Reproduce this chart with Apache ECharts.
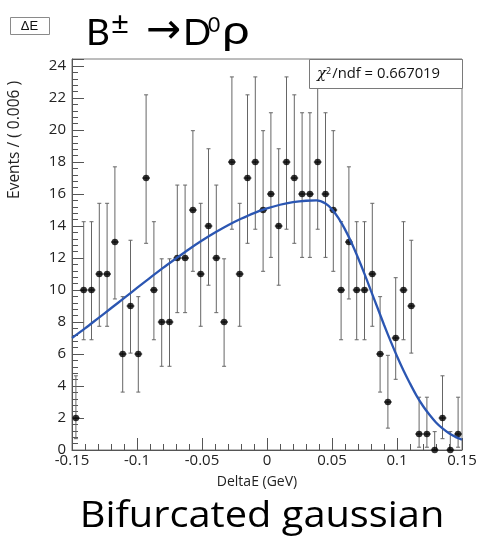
<!DOCTYPE html>
<html>
<head>
<meta charset="utf-8">
<script src="https://cdn.jsdelivr.net/npm/echarts@6/dist/echarts.min.js"></script>
<style>
  html, body { margin: 0; padding: 0; background: #fff; }
  #chart { width: 481px; height: 541px; }
</style>
</head>
<body>
<div id="chart"></div>
<script>
// DeltaE bin centres (GeV), bin width 0.006
const binCenters = [
  -0.147, -0.141, -0.135, -0.129, -0.123, -0.117, -0.111, -0.105, -0.099, -0.093,
  -0.087, -0.081, -0.075, -0.069, -0.063, -0.057, -0.051, -0.045, -0.039, -0.033,
  -0.027, -0.021, -0.015, -0.009, -0.003, 0.003, 0.009, 0.015, 0.021, 0.027,
  0.033, 0.039, 0.045, 0.051, 0.057, 0.063, 0.069, 0.075, 0.081, 0.087,
  0.093, 0.099, 0.105, 0.111, 0.117, 0.123, 0.129, 0.135, 0.141, 0.147
];
const halfBin = 0.003;

// events per bin
const counts = [
  2, 10, 10, 11, 11, 13, 6, 9, 6, 17,
  10, 8, 8, 12, 12, 15, 11, 14, 12, 8,
  18, 11, 17, 18, 15, 16, 14, 18, 17, 16,
  16, 18, 16, 15, 10, 13, 10, 10, 11, 6,
  3, 7, 10, 9, 1, 1, 0, 2, 0, 1
];

// Poisson interval bounds per bin
const errLow = [
  0.708, 6.891, 6.891, 7.734, 7.734, 9.441, 3.620, 6.057, 3.620, 12.92,
  6.891, 5.232, 5.232, 8.585, 8.585, 11.17, 7.734, 10.30, 8.585, 5.232,
  13.80, 7.734, 12.92, 13.80, 11.17, 12.04, 10.30, 13.80, 12.92, 12.04,
  12.04, 13.80, 12.04, 11.17, 6.891, 9.441, 6.891, 6.891, 7.734, 3.620,
  1.367, 4.419, 6.891, 6.057, 0.173, 0.173, 0, 0.708, 0, 0.173
];
const errHigh = [
  4.638, 14.27, 14.27, 15.42, 15.42, 17.70, 9.584, 13.11, 9.584, 22.20,
  14.27, 11.95, 11.95, 16.56, 16.56, 19.96, 15.42, 18.83, 16.56, 11.95,
  23.32, 15.42, 22.20, 23.32, 19.96, 21.08, 18.83, 23.32, 22.20, 21.08,
  21.08, 23.32, 21.08, 19.96, 14.27, 17.70, 14.27, 14.27, 15.42, 9.584,
  5.918, 10.77, 14.27, 13.11, 3.300, 3.300, 1.148, 4.638, 1.148, 3.300
];

// bifurcated gaussian fit curve
const curveX = [
  -0.15, -0.14, -0.13, -0.12, -0.11, -0.10, -0.09, -0.08, -0.07, -0.06,
  -0.05, -0.04, -0.03, -0.02, -0.01, 0.00, 0.01, 0.02, 0.03, 0.038,
  0.045, 0.05, 0.055, 0.06, 0.065, 0.07, 0.075, 0.08, 0.085, 0.09,
  0.095, 0.10, 0.105, 0.11, 0.115, 0.12, 0.125, 0.13, 0.135, 0.14,
  0.145, 0.15
];
const curveY = [
  7.00, 7.60, 8.23, 8.86, 9.49, 10.13, 10.76, 11.38, 11.97, 12.55,
  13.09, 13.59, 14.05, 14.45, 14.81, 15.10, 15.33, 15.49, 15.58, 15.60,
  15.41, 15.04, 14.49, 13.79, 12.96, 12.02, 11.01, 9.95, 8.89, 7.83,
  6.82, 5.86, 4.97, 4.16, 3.40, 2.75, 2.20, 1.72, 1.35, 1.05,
  0.82, 0.64
];

const xTicks = { min: -0.15, max: 0.15, step: 0.05 };
const yTicks = { min: 0, max: 24.44, step: 2 };

const chiText = '0.667019';

const chart = echarts.init(document.getElementById('chart'), null, { renderer: 'canvas' });

const axisFont = 'Open Sans';
const axisColor = '#555';

const barData = binCenters.map((x, i) => [x, counts[i], errLow[i], errHigh[i]]);
const pointData = binCenters.map((x, i) => [x, counts[i]]);
const curveData = curveX.map((x, i) => [x, curveY[i]]);

function renderErrorBar(params, api) {
  const x = api.value(0);
  const n = api.value(1);
  const lo = api.value(2);
  const hi = api.value(3);
  const c = api.coord([x, n]);
  const top = api.coord([x, hi]);
  const bot = api.coord([x, lo]);
  const left = api.coord([x - halfBin, n]);
  const right = api.coord([x + halfBin, n]);
  const style = { stroke: '#666', lineWidth: 1 };
  const cap = 2;
  const kids = [
    { type: 'line', shape: { x1: c[0], y1: top[1], x2: c[0], y2: bot[1] }, style },
    { type: 'line', shape: { x1: c[0] - cap, y1: top[1], x2: c[0] + cap, y2: top[1] }, style },
    { type: 'line', shape: { x1: left[0], y1: c[1], x2: right[0], y2: c[1] }, style: { stroke: '#333', lineWidth: 1.2 } }
  ];
  if (lo < n) {
    kids.push({ type: 'line', shape: { x1: c[0] - cap, y1: bot[1], x2: c[0] + cap, y2: bot[1] }, style });
  }
  return { type: 'group', children: kids };
}

const option = {
  animation: false,
  backgroundColor: '#fff',
  grid: {
    left: 72, right: 19, top: 59, bottom: 91,
    show: true, borderColor: '#7a7a7a', borderWidth: 1, backgroundColor: 'transparent'
  },
  xAxis: {
    type: 'value',
    min: xTicks.min, max: xTicks.max, interval: xTicks.step,
    axisLine: { show: true, onZero: false, lineStyle: { color: axisColor, width: 1 } },
    axisTick: { show: true, inside: true, length: 12, lineStyle: { color: axisColor } },
    minorTick: { show: true, splitNumber: 5, length: 6, lineStyle: { color: axisColor } },
    splitLine: { show: false },
    axisLabel: {
      fontFamily: axisFont, fontSize: 15, color: '#222', margin: 3,
      formatter: v => String(+v.toFixed(3))
    }
  },
  yAxis: {
    type: 'value',
    min: yTicks.min, max: yTicks.max, interval: yTicks.step,
    axisLine: { show: true, onZero: false, lineStyle: { color: axisColor, width: 1 } },
    axisTick: { show: true, inside: true, length: 12, lineStyle: { color: axisColor } },
    minorTick: { show: true, splitNumber: 5, length: 6, lineStyle: { color: axisColor } },
    splitLine: { show: false },
    axisLabel: {
      fontFamily: axisFont, fontSize: 15, color: '#222', margin: 6,
      showMaxLabel: false,
      formatter: v => (Math.abs(v - Math.round(v)) < 1e-6 && Math.round(v) % 2 === 0) ? String(Math.round(v)) : ''
    }
  },
  series: [
    {
      type: 'custom',
      data: barData,
      renderItem: renderErrorBar,
      clip: false,
      z: 2,
      silent: true
    },
    {
      type: 'scatter',
      data: pointData,
      symbol: 'circle',
      symbolSize: 6.5,
      itemStyle: { color: '#000' },
      clip: false,
      z: 3,
      silent: true
    },
    {
      type: 'line',
      data: curveData,
      showSymbol: false,
      smooth: 0.3,
      lineStyle: { color: '#2b56b2', width: 2.3 },
      z: 4,
      silent: true
    }
  ],
  graphic: [
    // small label box at top-left
    {
      type: 'rect', left: 10, top: 17,
      shape: { width: 39, height: 17 },
      style: { fill: '#fff', stroke: '#8a8a8a', lineWidth: 1 }
    },
    {
      type: 'text', x: 29.5, y: 26,
      style: { text: 'ΔE', font: '13px "Liberation Sans"', fill: '#111', align: 'center', verticalAlign: 'middle' }
    },
    // decay title
    { type: 'text', x: 86, y: 33, style: { text: 'B', font: '37px Lato', fill: '#000', align: 'left', verticalAlign: 'middle' } },
    { type: 'text', x: 111, y: 24, style: { text: '±', font: '31px Lato', fill: '#000', align: 'left', verticalAlign: 'middle' } },
    { type: 'text', x: 146, y: 32, style: { text: '→', font: '42px "DejaVu Sans"', fill: '#000', align: 'left', verticalAlign: 'middle' } },
    { type: 'text', x: 183, y: 33, style: { text: 'D', font: '37px Lato', fill: '#000', align: 'left', verticalAlign: 'middle' } },
    { type: 'text', x: 208, y: 25, style: { text: '0', font: '21px Lato', fill: '#000', align: 'left', verticalAlign: 'middle' } },
    { type: 'text', x: 222, y: 31, scaleX: 1.2, style: { text: 'ρ', font: '41px Lato', fill: '#000', align: 'left', verticalAlign: 'middle' } },
    // fit quality box
    {
      type: 'rect', left: 309, top: 59,
      shape: { width: 153, height: 29 },
      style: { fill: '#fff', stroke: '#7a7a7a', lineWidth: 1 },
      z: 10
    },
    {
      type: 'text', x: 317, y: 74, z: 11,
      style: {
        text: '{chi|χ}{sup|2}{t|/ndf = ' + chiText + '}',
        verticalAlign: 'middle', align: 'left',
        rich: {
          chi: { font: 'italic 15px "DejaVu Serif"', fill: '#111', verticalAlign: 'middle' },
          sup: { font: '9px "Open Sans"', fill: '#111', verticalAlign: 'top', padding: [0, 1, 0, 0] },
          t: { font: '14.8px "Open Sans"', fill: '#111', verticalAlign: 'middle' }
        }
      }
    },
    // axis titles
    {
      type: 'text', x: 257, y: 482,
      style: { text: 'DeltaE (GeV)', font: '14px "Open Sans"', fill: '#222', align: 'center', verticalAlign: 'middle' }
    },
    {
      type: 'text', x: 15, y: 140, rotation: Math.PI / 2,
      style: { text: 'Events / ( 0.006 )', font: '15.5px "Open Sans"', fill: '#222', align: 'center', verticalAlign: 'middle' }
    },
    // caption
    {
      type: 'text', x: 262, y: 516, scaleX: 1.075,
      style: { text: 'Bifurcated gaussian', font: '37px "Open Sans"', fill: '#000', align: 'center', verticalAlign: 'middle' }
    }
  ]
};

chart.setOption(option);
</script>
</body>
</html>
